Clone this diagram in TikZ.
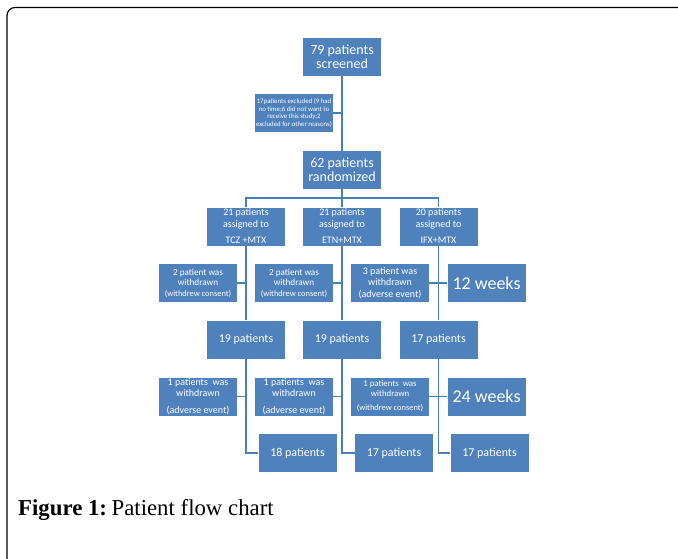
\documentclass[tikz,border=0pt]{standalone}
\usepackage{fontspec}
\setmainfont{Carlito}
\newfontfamily\capfont{Liberation Serif}
\definecolor{boxblue}{HTML}{4F81BD}
\definecolor{linkblue}{HTML}{4A7EBB}
\tikzset{
  box/.style={fill=boxblue, text=white, inner sep=0pt, align=center,
    minimum width=78pt, minimum height=38pt},
  link/.style={draw=linkblue, line width=1.5pt},
  fbig/.style={font=\fontsize{14}{14.3}\selectfont},
  fmid/.style={font=\fontsize{10}{11.3}\selectfont},
  fsmall/.style={font=\fontsize{9.2}{10.4}\selectfont},
  fnum/.style={font=\fontsize{12}{13}\selectfont},
  fweek/.style={font=\fontsize{18}{20}\selectfont},
}
\begin{document}
\begin{tikzpicture}[x=1pt, y=-1pt]
\useasboundingbox (0,0) rectangle (678,558);
% frame
\draw[line width=1.2pt, rounded corners=8pt] (7,560) -- (7,7.5) -- (680,7.5);
% nodes
\node[box, fbig] (scr) at (342,56.5) {79 patients\\screened};
\node[box, font=\fontsize{6.8}{7.7}\selectfont] (exc) at (294,113) {17patients excluded (9 had\\no time;6 did not want to\\receive this study;2\\excluded for other reasons)};
\node[box, fbig] (rnd) at (342,170) {62 patients\\randomized};
\node[box, fmid] (tcz) at (246,226.5) {21 patients\\assigned to\\[5.4pt]TCZ +MTX};
\node[box, fmid] (etn) at (342,226.5) {21 patients\\assigned to\\[5.4pt]ETN+MTX};
\node[box, fmid] (ifx) at (438.5,226.5) {20 patients\\assigned to\\[5.4pt]IFX+MTX};
\node[box, fsmall] (wa1) at (198,283) {2 patient was\\withdrawn\\{\fontsize{8.4}{10}\selectfont(withdrew consent)}};
\node[box, fsmall] (wb1) at (294,283) {2 patient was\\withdrawn\\{\fontsize{8.4}{10}\selectfont(withdrew consent)}};
\node[box, font=\fontsize{10}{11}\selectfont] (wc1) at (390,283) {3 patient was\\withdrawn\\[1pt](adverse event)};
\node[box, fweek] (wk12) at (486.5,283) {12 weeks};
\node[box, fnum] (pa1) at (246,339.5) {19 patients};
\node[box, fnum] (pb1) at (342,339.5) {19 patients};
\node[box, fnum] (pc1) at (438.5,339.5) {17 patients};
\node[box, fmid] (wa2) at (198,396.5) {1 patients\ \ was\\withdrawn\\[5.4pt](adverse event)};
\node[box, fmid] (wb2) at (294,396.5) {1 patients\ \ was\\withdrawn\\[5.4pt](adverse event)};
\node[box, font=\fontsize{8.8}{10}\selectfont] (wc2) at (390,396.5) {1 patients\ \ was\\withdrawn\\[4pt]{\fontsize{8.4}{10}\selectfont(withdrew consent)}};
\node[box, fweek] (wk24) at (486.5,396.5) {24 weeks};
\node[box, fnum] (pa2) at (297.5,453) {18 patients};
\node[box, fnum] (pb2) at (394,453) {17 patients};
\node[box, fnum] (pc2) at (489.5,453) {17 patients};
% coordinates
\coordinate (barL) at (246,198);
\coordinate (barR) at (438.5,198);
\coordinate (ea) at (246,453);
\coordinate (eb) at (342,453);
\coordinate (ec) at (438.5,453);
% connectors
\draw[link] (scr.south) -- (rnd.north);
\draw[link] (exc.east) -- (exc.east -| scr.south);
\draw[link] (rnd.south) -- (etn.north);
\draw[link] (tcz.north) -- (barL) -- (barR) -- (ifx.north);
\draw[link] (tcz.south) -- (pa1.north);
\draw[link] (etn.south) -- (pb1.north);
\draw[link] (ifx.south) -- (pc1.north);
\draw[link] (wa1.east) -- (wa1.east -| tcz.south);
\draw[link] (wb1.east) -- (wb1.east -| etn.south);
\draw[link] (wc1.east) -- (wk12.west);
\draw[link] (pa1.south) -- (ea) -- (pa2.west);
\draw[link] (pb1.south) -- (eb) -- (pb2.west);
\draw[link] (pc1.south) -- (ec) -- (pc2.west);
\draw[link] (wa2.east) -- (wa2.east -| pa1.south);
\draw[link] (wb2.east) -- (wb2.east -| pb1.south);
\draw[link] (wc2.east) -- (wk24.west);
% caption
\node[anchor=base west, inner sep=0pt, font=\capfont\fontsize{22.8}{25}\selectfont] (cap) at (18,515.5) {\textbf{Figure 1:}\hspace{0.2em}Patient flow chart};
\end{tikzpicture}
\end{document}
